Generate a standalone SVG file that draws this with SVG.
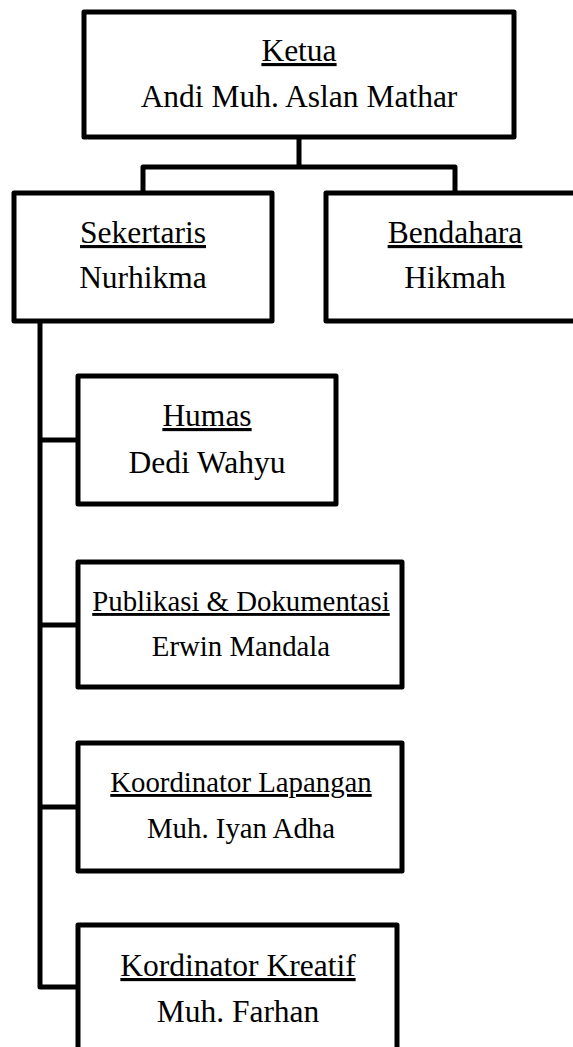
<svg xmlns="http://www.w3.org/2000/svg" width="573" height="1047" viewBox="0 0 573 1047">
<style>
.box{fill:#fff;stroke:#000;stroke-width:5;stroke-linejoin:round}
.ln{fill:none;stroke:#000;stroke-width:5;stroke-linejoin:round}
.t{font-family:"Liberation Serif","Times New Roman",serif;font-size:31.5px;fill:#000;text-anchor:middle}
.s{font-size:28.8px}
.u{text-decoration:underline}
</style>
<rect width="573" height="1047" fill="#fff"/>
<g id="connectors">
<path class="ln" d="M299,137 V167 M143,193 V167 H455 V193"/>
<path class="ln" d="M40,321 V987 H78 M40,440 H78 M40,625 H78 M40,807 H78"/>
</g>
<g id="ketua">
<rect class="box" x="84" y="12" width="430" height="125"/>
<text class="t u" x="299" y="61">Ketua</text>
<text class="t" x="299" y="107">Andi Muh. Aslan Mathar</text>
</g>
<g id="sekertaris">
<rect class="box" x="14" y="193" width="258" height="128"/>
<text class="t u" x="143" y="243">Sekertaris</text>
<text class="t" x="143" y="288">Nurhikma</text>
</g>
<g id="bendahara">
<rect class="box" x="326" y="193" width="258" height="128"/>
<text class="t u" x="455" y="243">Bendahara</text>
<text class="t" x="455" y="288">Hikmah</text>
</g>
<g id="humas">
<rect class="box" x="78" y="376" width="258" height="128"/>
<text class="t u" x="207" y="426">Humas</text>
<text class="t" x="207" y="473">Dedi Wahyu</text>
</g>
<g id="publikasi">
<rect class="box" x="78" y="562" width="324" height="125"/>
<text class="t s u" x="241" y="611">Publikasi &amp; Dokumentasi</text>
<text class="t s" x="241" y="656">Erwin Mandala</text>
</g>
<g id="koordinator-lapangan">
<rect class="box" x="78" y="743" width="324" height="128"/>
<text class="t s u" x="241" y="792">Koordinator Lapangan</text>
<text class="t s" x="241" y="838">Muh. Iyan Adha</text>
</g>
<g id="kordinator-kreatif">
<rect class="box" x="78" y="925" width="319" height="130"/>
<text class="t u" x="238" y="976">Kordinator Kreatif</text>
<text class="t" x="238" y="1022">Muh. Farhan</text>
</g>
</svg>
